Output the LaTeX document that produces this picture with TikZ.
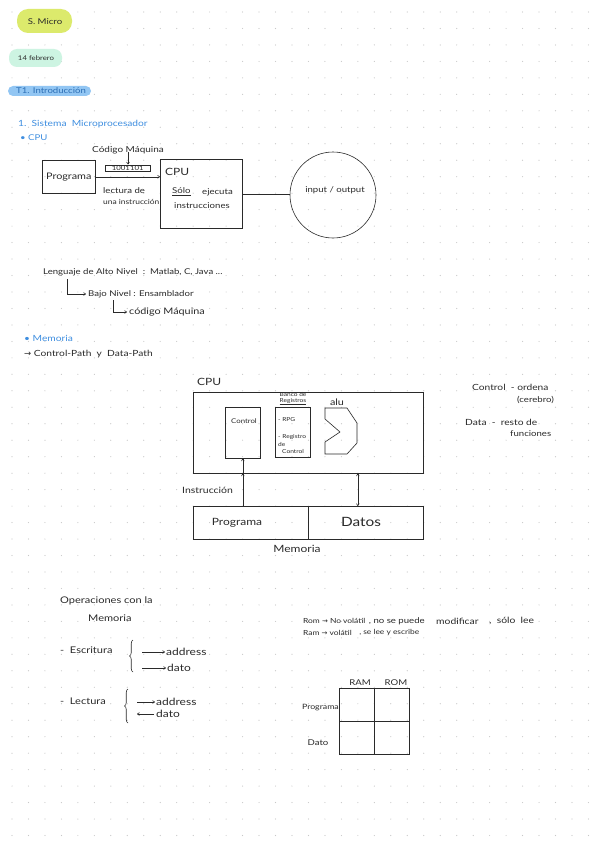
\documentclass[tikz,border=0pt]{standalone}
\usepackage{fontspec}
\setmainfont{Lato}[FakeStretch=1.2]
\newfontfamily\sym{DejaVu Sans}
\usetikzlibrary{arrows.meta,decorations.pathreplacing,calc}
\definecolor{ink}{HTML}{2A2A2A}
\definecolor{bluetxt}{HTML}{3E8EE0}
\definecolor{darkblue}{HTML}{2D6FB5}
\definecolor{lime}{HTML}{DCEA6C}
\definecolor{mint}{HTML}{CDF4E2}
\definecolor{hlblue}{HTML}{92C6F3}
\definecolor{dotc}{HTML}{C8C8C8}
\newcommand{\fs}[1]{\fontsize{#1}{#1}\selectfont}
\begin{document}
\begin{tikzpicture}[x=1pt,y=-1pt,
  every node/.style={font=\fs{8}, text=ink, inner sep=0pt},
  box/.style={draw=ink, line width=0.6pt},
  txt/.style={anchor=west},
  big/.style={font=\fs{10}},
  tip/.style={-{To[length=2.6pt,width=3.2pt]}},
  ln/.style={draw=ink, line width=0.6pt},
  brc/.style={ln, decorate, decoration={brace, amplitude=3.5pt}}]
\useasboundingbox (0,0) rectangle (599,848);
\fill[white] (0,0) rectangle (599,848);
% dot grid
\foreach \i in {0,...,35}{
  \foreach \j in {0,...,50}{
    \fill[dotc] ({12+\i*16.47},{12+\j*16.47}) circle (0.6);
  }
}
% headings
\fill[lime,rounded corners=11pt] (17,9) rectangle (72,33);
\node (smicro) at (45,22) {S. Micro};
\fill[mint,rounded corners=8pt] (9,49) rectangle (62,67);
\node[font=\fs{6.5}] (feb) at (36,58) {14 febrero};
\fill[hlblue,rounded corners=5pt] (8,86) rectangle (91,96);
\node[text=darkblue] (intro) at (51,91) {T1. Introducción};
\node[txt,text=bluetxt,font=\fs{8.5}] (sis) at (18,124) {1.\ \ Sistema\ \ Microprocesador};
\node[txt,text=bluetxt] (cpub) at (20,138) {• CPU};
% CPU diagram
\node[box,minimum width=53pt,minimum height=33pt,anchor=north west,font=\fs{9}] (prog) at (42,160) {Programa};
\node[box,minimum width=82pt,minimum height=69pt,anchor=north west] (cpu) at (160,159) {};
\node[txt,font=\fs{10}] (cpuT) at (165,172) {CPU};
\node[txt] (solo) at (172,192) {\underline{Sólo}};
\node[txt] (ejec) at (202,192) {ejecuta};
\node[txt] (instr) at (174,206) {instrucciones};
\node[txt] (lect1) at (103,191) {lectura de};
\node[txt,font=\fs{7}] (lect2) at (103,202) {una instrucción};
\node[font=\fs{8.3}] (codm) at (128,150) {Código Máquina};
\node[box,line width=0.5pt,minimum width=45pt,minimum height=6.5pt,font=\fs{6.5},anchor=north west] (bin) at (105,164.5) {1001101};
\draw[ln,tip] ([yshift=2pt]codm.south) -- (codm.south |- bin.north);
\draw[ln,tip] (prog.east) -- (prog.east -| cpu.west);
\node[box,circle,minimum size=86pt] (io) at (333,195) {};
\node (ioT) at (335,190) {input / output};
\draw[ln] (cpu.east) -- (cpu.east -| io.west);
% languages
\node[txt] (leng) at (43,272) {Lenguaje de Alto Nivel \ :\ \ Matlab, C, Java ...};
\coordinate (e1) at (67,279);
\node[txt] (bajo) at (88,294) {Bajo Nivel : Ensamblador};
\coordinate (e2) at (113,300);
\node[txt,font=\fs{9}] (cod) at (129,312) {código Máquina};
\draw[ln,tip,shorten >=2pt] (e1) |- (bajo.west);
\draw[ln,tip,shorten >=2pt] (e2) |- (cod.west);
\node[txt,text=bluetxt,font=\fs{8.5}] (mem) at (24,338) {• Memoria};
\node[txt,font=\fs{8.5}] (path) at (24,354) {{\sym →} Control-Path\ \ y\ \ Data-Path};
% big CPU
\node[txt,font=\fs{10}] (cpu2T) at (197,382) {CPU};
\node[box,minimum width=230pt,minimum height=81pt,anchor=north west] (cpu2) at (193,392) {};
\node[box,minimum width=35pt,minimum height=51pt,anchor=north west] (ctrl) at (225,407) {};
\node[font=\fs{6.5}] (ctrlT) at (244,421) {Control};
\node[box,minimum width=35pt,minimum height=50pt,anchor=north west] (banco) at (275,407) {};
\node[font=\fs{5.5},align=center] (bancoT) at (293,399) {Banco de\\\underline{Registros}};
\node[txt,font=\fs{5.5}] (rpg) at (278,420) {- RPG};
\node[txt,font=\fs{5.5}] (reg1) at (278,437) {- Registro};
\node[txt,font=\fs{5.5}] (reg2) at (278,444) {de};
\node[txt,font=\fs{5.5}] (reg3) at (282,451) {Control};
\draw[ln] (325,408) -- (347,408) -- (357,423) -- (357,443) -- (347,454) -- (325,454) -- (325,442) -- (340,432) -- (325,419) -- cycle;
\coordinate (alu) at (341,431);
\node[font=\fs{9}] (aluT) at (337,402) {alu};
% memory
\node[box,minimum width=115pt,minimum height=33pt,anchor=north west] (mprog) at (193,506) {};
\node[font=\fs{10}] (mprogT) at (237,523) {Programa};
\node[box,minimum width=115pt,minimum height=33pt,anchor=north west] (mdat) at (308,506) {};
\node[font=\fs{12.8}] (mdatT) at (361,522) {Datos};
\node[font=\fs{10}] (memT) at (297,549) {Memoria};
\coordinate (ccross) at (ctrl.south |- cpu2.south);
\draw[ln,tip] (ctrl.south |- mprog.north) -- (ccross);
\draw[ln,tip] (ccross) -- (ctrl.south);
\node[txt,font=\fs{8.7}] (instT) at (182,490) {Instrucción};
\coordinate (dtop) at ([xshift=-8pt]mdat.north |- cpu2.south);
\draw[ln,{To[length=2.6pt,width=3.2pt]}-{To[length=2.6pt,width=3.2pt]}] ([xshift=-8pt]mdat.north) -- (dtop);
% right notes
\node[txt,font=\fs{8.5}] (n1) at (472,387) {Control\ \ - ordena};
\node[txt] (n2) at (517,400) {(cerebro)};
\node[txt,font=\fs{8.5}] (n3) at (465,422) {Data\ \ -\ \ resto de};
\node[txt] (n4) at (510,434) {funciones};
% operations
\node[txt,font=\fs{9.2}] (op1) at (60,601) {Operaciones con la};
\node[txt,font=\fs{9.2}] (op2) at (88,618) {Memoria};
\node[txt,font=\fs{9.2}] (esc) at (60,650) {-\ \ Escritura};
\coordinate (b1a) at (133,672);
\coordinate (b1b) at (133,640);
\draw[brc] (b1a) -- (b1b);
\node[txt,big] (ad1) at (166,652) {address};
\node[txt,big] (da1) at (167,668) {dato};
\draw[ln,tip] ([xshift=-24pt]ad1.west) -- ([xshift=-1pt]ad1.west);
\draw[ln,tip] ([xshift=-25pt]da1.west) -- ([xshift=-1pt]da1.west);
\node[txt,font=\fs{9.2}] (lec) at (60,701) {-\ \ Lectura};
\coordinate (b2a) at (128,723);
\coordinate (b2b) at (128,689);
\draw[brc] (b2a) -- (b2b);
\node[txt,big] (ad2) at (156,702) {address};
\node[txt,big] (da2) at (156,714) {dato};
\draw[ln,tip] ([xshift=-19pt]ad2.west) -- ([xshift=-1pt]ad2.west);
\draw[ln,tip] ([xshift=-2pt]da2.west) -- ([xshift=-19pt]da2.west);
% ROM RAM
\node[txt,font=\fs{7}] (rom1) at (303,621) {Rom {\sym →} No volátil};
\node[txt] (rom2) at ([xshift=3pt]rom1.east) {, no se puede};
\node[txt,font=\fs{8.6}] (rom3) at (436,621) {modificar};
\node[txt,font=\fs{8.6}] (rom4) at (489,621) {,\ \ sólo\ \ lee};
\node[txt,font=\fs{7}] (ram1) at (303,633) {Ram {\sym →} volátil};
\node[txt,font=\fs{7}] (ram2) at ([xshift=7pt]ram1.east) {, se lee y escribe};
\node[box,minimum width=35pt,minimum height=33pt,anchor=north west] (c11) at (339,688) {};
\node[box,minimum width=35pt,minimum height=33pt,anchor=north west] (c12) at (374,688) {};
\node[box,minimum width=35pt,minimum height=33pt,anchor=north west] (c21) at (339,721) {};
\node[box,minimum width=35pt,minimum height=33pt,anchor=north west] (c22) at (374,721) {};
\node (ramH) at (360,683) {RAM};
\node (romH) at (396,683) {ROM};
\node[anchor=east,font=\fs{7.3}] (progR) at (339,708) {Programa};
\node (datoR) at (318,743) {Dato};
\end{tikzpicture}
\end{document}
